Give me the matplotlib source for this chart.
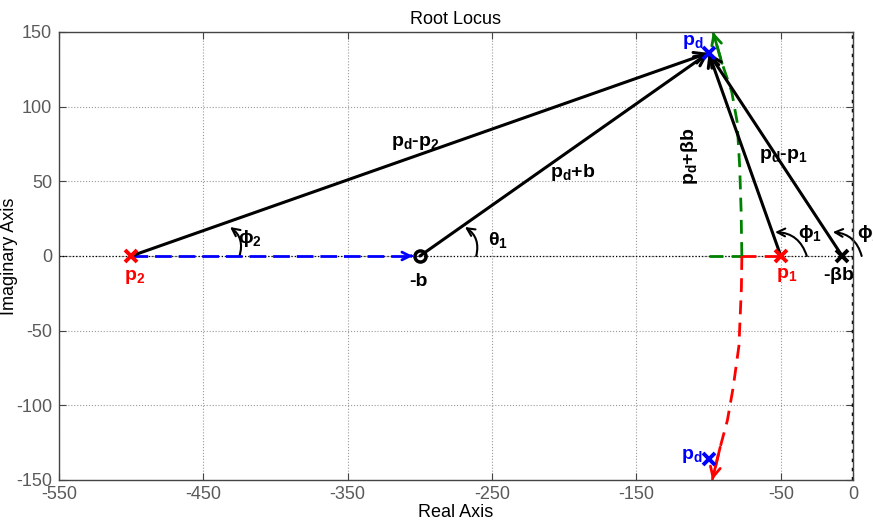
import matplotlib
matplotlib.use("Agg")
import matplotlib.pyplot as plt
from matplotlib.patches import FancyArrowPatch

plt.rcParams['font.family'] = ['Liberation Sans', 'DejaVu Sans']
plt.rcParams['mathtext.fontset'] = 'custom'
plt.rcParams['mathtext.rm'] = 'Liberation Sans'
plt.rcParams['mathtext.bf'] = 'Liberation Sans:bold'
plt.rcParams['mathtext.it'] = 'Liberation Sans:italic'
plt.rcParams['axes.unicode_minus'] = False

# ---- data ----
pole_p2 = (-500, 0)
pole_p1 = (-50, 0)
zero_b = (-300, 0)
zero_bb = (-7.5, 0)
pd_up = (-100, 136)
pd_dn = (-100, -136)

# root locus branches
green_h_re = [-100, -77]
green_h_im = [0, 0]
red_h_re = [-77, -50]
red_h_im = [0, 0]
green_up_re = [-77, -77.5, -78.5, -80.3, -84, -90.7, -97]
green_up_im = [0, 30, 60, 90, 110, 129, 150]
red_dn_re = [-77, -77.3, -79, -83, -87, -92, -97.5]
red_dn_im = [0, -21, -60, -88, -110, -128, -150]
blue_re = [-500, -303]
blue_im = [0, 0]

xticks = [-550, -450, -350, -250, -150, -50, 0]
yticks = [-150, -100, -50, 0, 50, 100, 150]

fig = plt.figure(figsize=(8.73, 5.27), dpi=100)
ax = fig.add_axes([59/873, 47/527, (853-59)/873, (480-32)/527])
ax.set_xlim(-550, 0)
ax.set_ylim(-150, 150)
ax.set_xticks(xticks)
ax.set_yticks(yticks)
ax.grid(True, color='#9a9a9a', linestyle=':', linewidth=0.8)
ax.set_axisbelow(True)
ax.tick_params(direction='in', top=True, right=True, labelsize=13,
               labelcolor='#5a5a5a', color='#444444', length=5)
ax.tick_params(axis='x', pad=4)
ax.tick_params(axis='y', pad=5)
for s in ax.spines.values():
    s.set_color('#444444')
    s.set_linewidth(1.0)
ax.set_title('Root Locus', fontsize=13, pad=6)
ax.set_xlabel('Real Axis', fontsize=13, labelpad=1)
ax.set_ylabel('Imaginary Axis', fontsize=13)
ax.yaxis.set_label_coords((18 - 59) / 794, 0.5)

# reference axes lines
ax.axhline(0, color='black', linestyle=':', linewidth=0.9, zorder=1)
ax.axvline(0, color='black', linestyle=':', linewidth=2.5, zorder=1)

# blue dashed
ax.plot(blue_re, blue_im, color='blue', linestyle=(0, (6, 2.5)), linewidth=2)
ax.annotate('', xy=(blue_re[1], 0), xytext=(blue_re[1] - 5, 0),
            arrowprops=dict(arrowstyle='->', color='blue', lw=2, mutation_scale=14))

# root locus branches
ax.plot(green_h_re, green_h_im, color='green', linestyle=(0, (5, 3)), linewidth=2)
ax.plot(red_h_re, red_h_im, color='red', linestyle=(0, (5, 3)), linewidth=2)
ax.plot(green_up_re, green_up_im, color='green', linestyle=(0, (5, 3)), linewidth=2)
ax.plot(red_dn_re, red_dn_im, color='red', linestyle=(0, (5, 3)), linewidth=2)
ax.annotate('', xy=(green_up_re[-1], green_up_im[-1]),
            xytext=(green_up_re[-2], green_up_im[-2]),
            arrowprops=dict(arrowstyle='->', color='green', lw=2, mutation_scale=18,
                            shrinkA=0, shrinkB=0))
ax.annotate('', xy=(red_dn_re[-1], red_dn_im[-1]),
            xytext=(red_dn_re[-2], red_dn_im[-2]),
            arrowprops=dict(arrowstyle='->', color='red', lw=2, mutation_scale=18,
                            shrinkA=0, shrinkB=0))

# vectors to pd
for src in [pole_p2, zero_b, pole_p1, zero_bb]:
    ax.annotate('', xy=pd_up, xytext=src,
                arrowprops=dict(arrowstyle='->', color='black', lw=2.2, mutation_scale=20,
                                shrinkA=0, shrinkB=0))

# markers
ax.plot([pole_p2[0], pole_p1[0]], [0, 0], 'x', color='red', ms=8, mew=2.8, zorder=5)
ax.plot([zero_bb[0]], [0], 'x', color='black', ms=8, mew=2.8, zorder=5, clip_on=False)
ax.plot([zero_b[0]], [0], 'o', mfc='none', mec='black', ms=8, mew=2.5, zorder=5)
ax.plot([pd_up[0], pd_dn[0]], [pd_up[1], pd_dn[1]], 'x', color='blue', ms=8, mew=2.8, zorder=6)

# angle arcs
def arc(start, end, rad=0.35):
    p = FancyArrowPatch(start, end, connectionstyle=f'arc3,rad={rad}',
                        arrowstyle='->', mutation_scale=14, lw=1.5, color='black',
                        shrinkA=0, shrinkB=0, clip_on=False)
    ax.add_patch(p)

arc((-425, 0), (-431.5, 19.4))
arc((-261, 0), (-268.8, 19.4))
arc((-32, 0), (-54, 16))
arc((6, 0), (-14, 16))

bold = dict(fontsize=14, fontweight='bold', ha='center', va='center')
ax.text(-418, 12, r'$\mathbf{\phi_2}$', **bold)
ax.text(-246, 11, r'$\mathbf{\theta_1}$', **bold)
ax.text(-30, 15, r'$\mathbf{\phi_1}$', **bold)
ax.text(11, 15, r'$\mathbf{\phi_1}$', clip_on=False, **bold)

ax.text(-303, 76, r'$\mathbf{p_d}$-$\mathbf{p_2}$', **bold)
ax.text(-194, 56, r'$\mathbf{p_d}$+$\mathbf{b}$', **bold)
ax.text(-113, 67, r'$\mathbf{p_d}$+$\mathbf{\beta b}$', rotation=90, **bold)
ax.text(-48, 67, r'$\mathbf{p_d}$-$\mathbf{p_1}$', **bold)

ax.text(-111, 143, r'$\mathbf{p_d}$', color='blue', **bold)
ax.text(-112, -134, r'$\mathbf{p_d}$', color='blue', **bold)
ax.text(-498, -14, r'$\mathbf{p_2}$', color='red', **bold)
ax.text(-46, -13, r'$\mathbf{p_1}$', color='red', **bold)
ax.text(-301, -17, '-b', **bold)
ax.text(-10, -13, r'-$\mathbf{\beta b}$', **bold)

fig.savefig('out.png', dpi=100)
